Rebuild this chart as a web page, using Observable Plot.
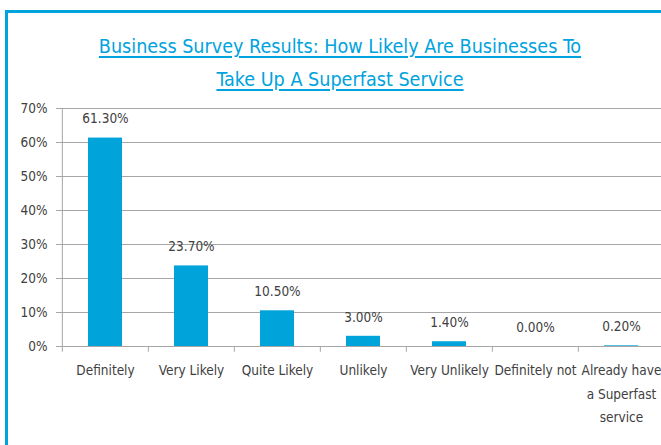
<!DOCTYPE html>
<html>
<head>
<meta charset="utf-8">
<script src="https://cdn.jsdelivr.net/npm/d3@7"></script>
<script src="https://cdn.jsdelivr.net/npm/@observablehq/plot@0.6"></script>
<style>
  html, body { margin: 0; padding: 0; background: #fff; overflow: hidden; }
  #wrap { position: relative; width: 661px; height: 445px; overflow: hidden; }
  #border { position: absolute; left: 5px; top: 10px; width: 700px; height: 500px;
    border-top: 3px solid #00A3DD; border-left: 3px solid #00A3DD; box-sizing: border-box; }
  #title { position: absolute; left: 0; width: 680px; top: 30px; text-align: center;
    font-family: "DejaVu Sans Condensed", sans-serif; font-size: 19.6px;
    color: #00A3DD; line-height: 33px; }
  #title span { text-decoration: underline; text-decoration-thickness: 2px; text-underline-offset: 3px; }
  #chart { position: absolute; left: 0; top: 0; }
  #chart svg { max-width: none; }
</style>
</head>
<body>
<div id="wrap">
  <div id="border"></div>
  <div id="chart"></div>
  <div id="title"><span>Business Survey Results: How Likely Are Businesses To</span><br><span>Take Up A Superfast Service</span></div>
</div>
<script>
const categories = ["Definitely", "Very Likely", "Quite Likely", "Unlikely", "Very Unlikely", "Definitely not", "Already have\na Superfast\nservice"];
const values = [61.3, 23.7, 10.5, 3.0, 1.4, 0.0, 0.2];
const yTicks = [0, 10, 20, 30, 40, 50, 60, 70];

const data = categories.map((c, i) => ({category: c, value: values[i]}));
const font = "'DejaVu Sans Condensed', sans-serif";
const step = (665 - 61) / categories.length;

const chart = Plot.plot({
  width: 670,
  height: 445,
  marginLeft: 61,
  marginRight: 5,
  marginTop: 108,
  marginBottom: 99,
  style: {fontFamily: font, fontSize: "13px", color: "#404040", background: "transparent", overflow: "visible"},
  x: {domain: categories, range: [61, 665], paddingInner: 0.6, paddingOuter: 0.3, label: null},
  y: {domain: [0, 70], range: [346, 108], label: null},
  marks: [
    Plot.gridY(yTicks, {stroke: "#a6a6a6", strokeOpacity: 1}),
    Plot.axisY(yTicks, {tickFormat: d => d + "%", tickSize: 5, tickPadding: 9, stroke: "#a6a6a6", fill: "#404040", fontSize: 13.5, label: null}),
    Plot.ruleX(data, {x: "category", y1: -1.7, y2: 0, dx: -step / 2, stroke: "#a6a6a6"}),
    Plot.ruleX(data.slice(0, 1), {x: "category", y1: 0, y2: 70, dx: -step / 2, stroke: "#a6a6a6"}),
    Plot.barY(data, {x: "category", y: "value", fill: "#00A3DA"}),
    Plot.ruleY([0], {stroke: "#a6a6a6"}),
    Plot.text(data, {x: "category", y: "value", text: d => d.value.toFixed(2) + "%", dy: -19, fill: "#404040", fontSize: 13.5}),
    Plot.axisX({tickSize: 0, tickPadding: 12, lineHeight: 1.74, fill: "#404040", fontSize: 13.5, label: null})
  ]
});
document.getElementById("chart").appendChild(chart);
</script>
</body>
</html>
